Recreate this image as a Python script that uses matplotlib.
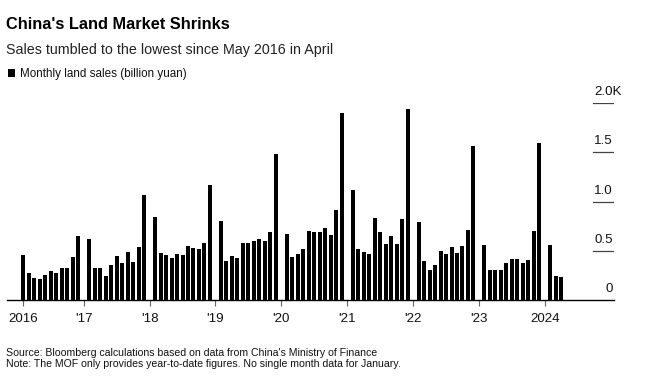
import matplotlib.pyplot as plt
from matplotlib import font_manager
import matplotlib.transforms as mtransforms

# monthly land sales, billion yuan (Feb..Dec, no single-month January data)
sales_2016 = [455, 275, 220, 210, 254, 295, 275, 322, 322, 440, 651]
sales_2017 = [620, 325, 325, 244, 356, 451, 376, 488, 390, 542, 1064]
sales_2018 = [847, 481, 461, 427, 468, 461, 546, 525, 519, 580, 1173]
sales_2019 = [803, 397, 451, 427, 580, 580, 600, 620, 603, 688, 1485]
sales_2020 = [671, 437, 471, 522, 702, 691, 688, 732, 658, 915, 1901]
sales_2021 = [1122, 519, 488, 471, 834, 695, 566, 651, 569, 824, 1942]
sales_2022 = [790, 400, 302, 356, 498, 465, 539, 478, 549, 712, 1566]
sales_2023 = [559, 305, 302, 308, 376, 414, 414, 373, 407, 702, 1596]
sales_2024 = [559, 247, 234]

years = [2016, 2017, 2018, 2019, 2020, 2021, 2022, 2023, 2024]
yearly = [sales_2016, sales_2017, sales_2018, sales_2019, sales_2020,
          sales_2021, sales_2022, sales_2023, sales_2024]
tick_labels = ['2016', "'17", "'18", "'19", "'20", "'21", "'22", "'23", '2024']
y_ticks = [0, 500, 1000, 1500, 2000]
y_labels = ['0', '0.5', '1.0', '1.5', '2.0K']

names = {f.name for f in font_manager.fontManager.ttflist}
HAS_NARROW = 'Liberation Sans Narrow' in names
NARROW = 'Liberation Sans Narrow' if HAS_NARROW else 'Liberation Sans'
k = 1.0 if HAS_NARROW else 0.82  # shrink regular font to the narrow width
plt.rcParams['font.family'] = ['Liberation Sans', 'DejaVu Sans']

# month index: 0 = Jan 2016
xs, vals = [], []
for yr, v in zip(years, yearly):
	for m, val in enumerate(v):
		xs.append((yr - 2016) * 12 + m + 1)
		vals.append(val)

W, H = 646, 376
fig = plt.figure(figsize=(W / 100, H / 100), dpi=100)
left, right, top, bottom = 7, 614, 103.3, 300
ax = fig.add_axes([left / W, 1 - bottom / H, (right - left) / W, (bottom - top) / H])

ax.bar(xs, vals, width=0.73, color='black', linewidth=0)
ax.set_xlim(-1.97, 108.6)
ax.set_ylim(0, 2000)

for s in ['top', 'right', 'left']:
	ax.spines[s].set_visible(False)
ax.spines['bottom'].set_color('black')
ax.spines['bottom'].set_linewidth(1.0)
ax.set_yticks([])

tick_pos = [1] + [(yr - 2016) * 12 for yr in years[1:]]
ax.set_xticks(tick_pos)
ax.set_xticklabels(tick_labels, fontsize=9.6, color='#111111')
ax.tick_params(axis='x', length=4, width=0.8, color='#666666', pad=5.5)

gx0 = (592.7 - left) / (right - left)
for yv, lab in zip(y_ticks, y_labels):
	if yv > 0:
		ax.axhline(yv, xmin=gx0, xmax=1, color='#444444', lw=0.9)
	tr = ax.get_yaxis_transform() + mtransforms.ScaledTranslation(0, 8 / 100, fig.dpi_scale_trans)
	if lab.endswith('K'):
		ax.text(gx0 + 1.5 / (right - left), yv, lab, transform=tr, ha='left', va='baseline',
				fontsize=9.6, color='#111111')
	else:
		ax.text(1 - 1 / (right - left), yv, lab, transform=tr, ha='right', va='baseline',
				fontsize=9.6, color='#111111')

def ftext(x, y, s, **kw):
	fig.text(x / W, 1 - y / H, s, va='baseline', **kw)

ftext(6, 28.7, "China's Land Market Shrinks", fontsize=14 * k + (0 if HAS_NARROW else 0.3),
	  fontweight='bold', family=NARROW)
ftext(6, 53.7, 'Sales tumbled to the lowest since May 2016 in April', fontsize=10.3, color='#222222')
fig.patches.append(plt.Rectangle((7.5 / W, 1 - 77 / H), 7.5 / W, 8 / H, transform=fig.transFigure,
								 color='black', lw=0))
ftext(20, 77.5, 'Monthly land sales (billion yuan)', fontsize=10.2 * k + (0 if HAS_NARROW else 0.0),
	  family=NARROW, color='#111111')
ftext(6, 355.5, "Source: Bloomberg calculations based on data from China's Ministry of Finance",
	  fontsize=8.4 * k + (0 if HAS_NARROW else 0.65), family=NARROW, color='#111111')
ftext(6, 367, 'Note: The MOF only provides year-to-date figures. No single month data for January.',
	  fontsize=8.4 * k + (0 if HAS_NARROW else 0.65), family=NARROW, color='#111111')

fig.savefig('out.png', dpi=100)
